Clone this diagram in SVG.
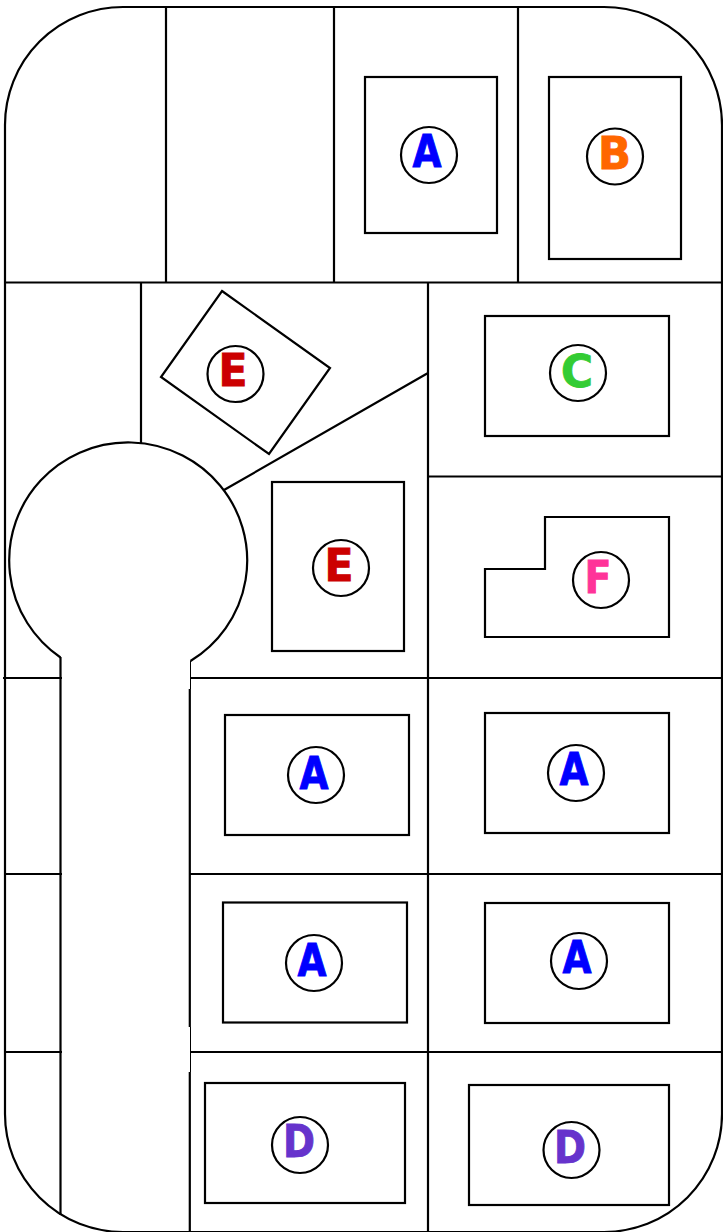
<svg xmlns="http://www.w3.org/2000/svg" width="723" height="1232" viewBox="0 0 723 1232">
<style>
.l{fill:none;stroke:#000;stroke-width:2.200}
.t{fill:none;stroke:#000;stroke-width:1}
.b{fill:#fff;stroke:#000;stroke-width:2.200}
text{font-family:"DejaVu Sans",sans-serif;font-weight:700;font-size:44px;text-anchor:middle;stroke-width:.9}
.A{fill:#0000ff;stroke:#0000ff}.B{fill:#ff6600;stroke:#ff6600}.C{fill:#33cc33;stroke:#33cc33}.D{fill:#6633cc;stroke:#6633cc}.E{fill:#cc0000;stroke:#cc0000}.F{fill:#ff3399;stroke:#ff3399}
</style>
<rect width="723" height="1232" fill="#fff"/>
<g id="connectors">
<path id="boundary" class="l" d="M5 125A118 118 0 0 1 123 7H604A118 118 0 0 1 722 125V1114A118 118 0 0 1 604 1232H123A118 118 0 0 1 5 1114Z"/>
<path class="l" d="M5 282.500H722M166 7V282M334 7V282M518 7V282M141 282V444M428 282V1232M428 476.500H722M3 678H62M190 678H722M5 874H62M190 874H722M5 1052H62M190 1052H722M428 373L224 490"/>
<path id="road" class="l" d="M60.500 657V1215M189.800 689V1027M189.800 1072V1232"/>
<path id="road-thin" class="t" d="M190.500 661V689M190.500 1027V1072"/>
<path id="culdesac" class="l" d="M60.500 657.500A119 118 0 1 1 190.500 661"/>
</g>
<g id="lot-a1"><rect class="l" x="365" y="77" width="132" height="156"/><circle class="b" cx="429" cy="155" r="28"/><text class="A" x="427" y="166.500" textLength="29" lengthAdjust="spacingAndGlyphs">A</text></g>
<g id="lot-b"><rect class="l" x="549" y="77" width="132" height="182"/><circle class="b" cx="615" cy="156.500" r="28"/><text class="B" x="614.500" y="168.500" textLength="33" lengthAdjust="spacingAndGlyphs">B</text></g>
<g id="lot-c"><rect class="l" x="485" y="316" width="184" height="120"/><circle class="b" cx="578" cy="373" r="28"/><text class="C" x="577" y="386.500" textLength="32" lengthAdjust="spacingAndGlyphs">C</text></g>
<g id="lot-e1"><polygon class="l" points="222,291 330,368 269,454 161,377"/><circle class="b" cx="235.500" cy="374" r="28"/><text class="E" x="233" y="385.500" textLength="29" lengthAdjust="spacingAndGlyphs">E</text></g>
<g id="lot-e2"><rect class="l" x="272" y="482" width="132" height="169"/><circle class="b" cx="341" cy="568" r="28"/><text class="E" x="339" y="580.500" textLength="29" lengthAdjust="spacingAndGlyphs">E</text></g>
<g id="lot-f"><path class="l" d="M485 569H545V517H669V637H485Z"/><circle class="b" cx="601" cy="580" r="28"/><text class="F" x="598" y="592.500" textLength="27" lengthAdjust="spacingAndGlyphs">F</text></g>
<g id="lot-a2"><rect class="l" x="225" y="715" width="184" height="120"/><circle class="b" cx="316" cy="775" r="28"/><text class="A" x="314" y="788.500" textLength="29" lengthAdjust="spacingAndGlyphs">A</text></g>
<g id="lot-a3"><rect class="l" x="485" y="713" width="184" height="120"/><circle class="b" cx="576" cy="773" r="28"/><text class="A" x="574" y="784.500" textLength="29" lengthAdjust="spacingAndGlyphs">A</text></g>
<g id="lot-a4"><rect class="l" x="223" y="902.500" width="184" height="120"/><circle class="b" cx="314" cy="963" r="28"/><text class="A" x="312" y="975.500" textLength="29" lengthAdjust="spacingAndGlyphs">A</text></g>
<g id="lot-a5"><rect class="l" x="485" y="903" width="184" height="120"/><circle class="b" cx="579" cy="961" r="28"/><text class="A" x="577" y="972.500" textLength="29" lengthAdjust="spacingAndGlyphs">A</text></g>
<g id="lot-d1"><rect class="l" x="205" y="1083" width="200" height="120"/><circle class="b" cx="300" cy="1145" r="28"/><text class="D" x="299" y="1156.500" textLength="32" lengthAdjust="spacingAndGlyphs">D</text></g>
<g id="lot-d2"><rect class="l" x="469" y="1085" width="200" height="120"/><circle class="b" cx="571.500" cy="1150" r="28"/><text class="D" x="570" y="1162.500" textLength="32" lengthAdjust="spacingAndGlyphs">D</text></g>
</svg>
